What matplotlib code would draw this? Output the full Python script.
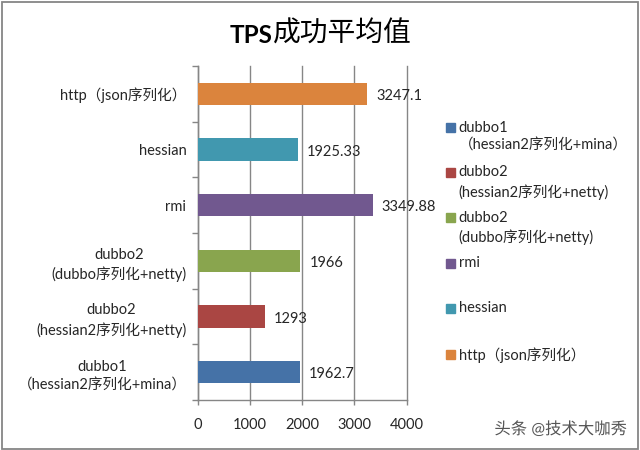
import matplotlib.pyplot as plt
from matplotlib.patches import Rectangle
import matplotlib.patheffects as pe

plt.rcParams['font.family'] = ['Lato', 'Noto Sans CJK SC', 'DejaVu Sans']

# values, bottom bar first
names = ['dubbo1\n（hessian2序列化+mina）',
         'dubbo2\n(hessian2序列化+netty)',
         'dubbo2\n(dubbo序列化+netty)',
         'rmi',
         'hessian',
         'http（json序列化）']
values = [1962.7, 1293, 1966, 3349.88, 1925.33, 3247.1]
colors = ['#4572A7', '#AA4643', '#89A54E', '#71588F', '#4198AF', '#DB843D']

W, H = 640, 450
text_color = '#262626'

fig = plt.figure(figsize=(W / 100, H / 100), dpi=100)
ax = fig.add_axes([197.5 / W, 1 - 400 / H, 209 / W, 334 / H])

# outer chart border
fig.add_artist(Rectangle((1.5 / W, 1.5 / H), 636.5 / W, 446.5 / H, transform=fig.transFigure,
                         fill=False, edgecolor='#868686', linewidth=1.3))

# bars
ypos = list(range(len(values)))
ax.barh(ypos, values, height=0.4, color=colors, zorder=3)
ax.set_xlim(0, 4000)
ax.set_ylim(-0.5, 5.5)

# axes and grid
ax.set_xticks([0, 1000, 2000, 3000, 4000])
ax.set_yticks([y - 0.5 for y in range(len(values) + 1)])
ax.set_yticklabels([])
ax.set_yticks(ypos, names, minor=True)
ax.grid(axis='x', color='#868686', linewidth=1, zorder=0, clip_on=False)
ax.set_axisbelow(True)
for s in ['top', 'right']:
    ax.spines[s].set_visible(False)
for s in ['left', 'bottom']:
    ax.spines[s].set_color('#868686')
    ax.spines[s].set_linewidth(1)
ax.tick_params(axis='x', length=3.5, width=1, color='#868686', labelsize=10.5,
               labelcolor=text_color, pad=9.5)
ax.tick_params(axis='y', which='major', length=4, width=1, color='#868686')
ax.tick_params(axis='y', which='minor', length=0, pad=8, labelsize=10.5, labelcolor=text_color)
for lab in ax.get_yticklabels(minor=True):
    lab.set_multialignment('center')
    lab.set_linespacing(1.4)

# data labels
for y, v in zip(ypos, values):
    ax.annotate(f'{v:g}', (v, y), xytext=(6.5, -1.5), textcoords='offset points',
                va='center', ha='left', fontsize=10.5, color=text_color, zorder=5)

# title, bold latin part and regular chinese part
fig.text(272.5 / W, 1 - 43 / H, 'TPS', fontsize=17.5, fontweight='bold', ha='right',
         va='baseline', color='black')
fig.text(273 / W, 1 - 42 / H, '成功平均值', fontsize=20, ha='left', va='baseline',
         color='black', family=['Noto Sans CJK SC', 'DejaVu Sans'])

# legend, same order as the bars
legend_y = [127.5, 172.5, 217.5, 263, 308, 354]
for name, c, ly in zip(names, colors, legend_y):
    fig.add_artist(Rectangle((446 / W, 1 - (ly + 4.5) / H), 9 / W, 9 / H,
                             transform=fig.transFigure, color=c))
    fig.text(458.5 / W, 1 - (ly - 7) / H, name, fontsize=10.5, color=text_color,
             va='top', ha='left', linespacing=1.35)

# watermark
fig.text(627 / W, 1 - 429 / H, '头条 @技术大咖秀', fontsize=11.8, color='#555555', ha='right',
         va='center', path_effects=[pe.withStroke(linewidth=1.5, foreground='white')])

fig.savefig('out.png', dpi=100)
